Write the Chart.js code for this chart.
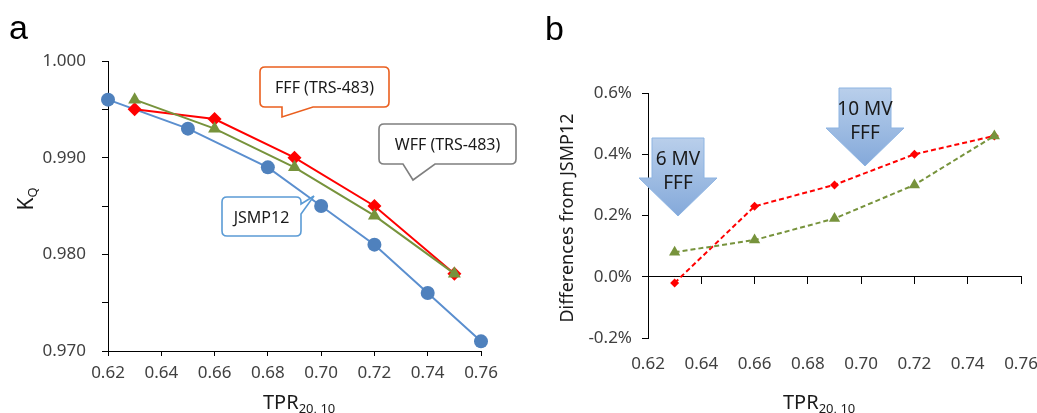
<!DOCTYPE html>
<html>
<head>
<meta charset="utf-8">
<script src="https://cdn.jsdelivr.net/npm/chart.js@4.4.1/dist/chart.umd.min.js"></script>
<style>
  body { margin: 0; background: #fff; }
  #wrap { position: relative; width: 1037px; height: 413px; overflow: hidden; }
  canvas { position: absolute; top: 0; }
  #left { left: 0; }
  #right { left: 520px; }
  #notes { position: absolute; left: 0; top: 0; pointer-events: none; }
</style>
</head>
<body>
<div id="wrap">
  <canvas id="left" width="520" height="413"></canvas>
  <canvas id="right" width="540" height="413"></canvas>
  <svg id="notes" width="1037" height="413" font-family="'Noto Sans', sans-serif">
    <defs>
      <linearGradient id="arrowFill" x1="0" y1="0" x2="0" y2="1">
        <stop offset="0" stop-color="#b9cfeb"/>
        <stop offset="1" stop-color="#84a9da"/>
      </linearGradient>
    </defs>

    <!-- panel letters -->
    <text x="9" y="39" font-family="'Liberation Sans', Arial, sans-serif" font-size="34" fill="#000">a</text>
    <text x="545" y="40" font-family="'Liberation Sans', Arial, sans-serif" font-size="34" fill="#000">b</text>

    <!-- axis titles -->
    <text transform="translate(33,199) rotate(-90)" text-anchor="middle" font-size="21" fill="#1a1a1a">K<tspan font-size="13" dy="4">Q</tspan></text>
    <text x="263" y="409" font-size="20" fill="#1a1a1a">TPR<tspan font-size="13" dy="4">20, 10</tspan></text>
    <text transform="translate(573,218) rotate(-90)" text-anchor="middle" font-size="18" fill="#1a1a1a">Differences from JSMP12</text>
    <text x="783" y="409" font-size="20" fill="#1a1a1a">TPR<tspan font-size="13" dy="4">20, 10</tspan></text>

    <!-- callouts, panel a -->
    <path d="M265,67 H384 Q389,67 389,72 V102 Q389,107 384,107 H313 L282,117 V107 H265 Q260,107 260,102 V72 Q260,67 265,67 Z"
          fill="#fff" stroke="#ea5f1e" stroke-width="1.6"/>
    <text x="324.5" y="93" text-anchor="middle" font-size="16" fill="#1a1a1a">FFF (TRS-483)</text>

    <path d="M384,124 H511 Q516,124 516,129 V159 Q516,164 511,164 H435 L413,180 L403,164 H384 Q379,164 379,159 V129 Q379,124 384,124 Z"
          fill="#fff" stroke="#7f7f7f" stroke-width="1.6"/>
    <text x="447.5" y="150" text-anchor="middle" font-size="16" fill="#1a1a1a">WFF (TRS-483)</text>

    <path d="M227,197 H296 Q301,197 301,202 V204 L314,196 L301,214 V231 Q301,236 296,236 H227 Q222,236 222,231 V202 Q222,197 227,197 Z"
          fill="#fff" stroke="#5b9bd5" stroke-width="1.6"/>
    <text x="261.5" y="223" text-anchor="middle" font-size="16" fill="#1a1a1a">JSMP12</text>

    <!-- arrows, panel b -->
    <path d="M652,138 H704 V178 H717 L678,216 L639,178 H652 Z" fill="url(#arrowFill)" stroke="#8db4e2" stroke-width="1"/>
    <text x="678" y="165" text-anchor="middle" font-size="19" fill="#1a1a1a">6 MV</text>
    <text x="678" y="189" text-anchor="middle" font-size="19" fill="#1a1a1a">FFF</text>

    <path d="M839,88 H891 V128 H904 L865,166 L826,128 H839 Z" fill="url(#arrowFill)" stroke="#8db4e2" stroke-width="1"/>
    <text x="865" y="115" text-anchor="middle" font-size="19" fill="#1a1a1a">10 MV</text>
    <text x="865" y="139" text-anchor="middle" font-size="19" fill="#1a1a1a">FFF</text>
  </svg>
</div>

<script>
// panel a: beam quality correction factor kQ vs TPR20,10
const tprJsmp = [0.62, 0.65, 0.68, 0.70, 0.72, 0.74, 0.76];
const kqJsmp  = [0.996, 0.993, 0.989, 0.985, 0.981, 0.976, 0.971];
const tprTrs  = [0.63, 0.66, 0.69, 0.72, 0.75];
const kqFff   = [0.995, 0.994, 0.990, 0.985, 0.978];
const kqWff   = [0.996, 0.993, 0.989, 0.984, 0.978];

// panel b: differences from JSMP12 (%)
const diffFff = [-0.02, 0.23, 0.30, 0.40, 0.46];
const diffWff = [0.08, 0.12, 0.19, 0.30, 0.46];

// tick values
const tprTicks   = [0.62, 0.64, 0.66, 0.68, 0.70, 0.72, 0.74, 0.76];
const kqTicks    = [0.970, 0.975, 0.980, 0.985, 0.990, 0.995, 1.000];
const kqLabelled = [0.970, 0.980, 0.990, 1.000];
const diffTicks  = [-0.2, 0.0, 0.2, 0.4, 0.6];

const RED = '#ff0000', GREEN = '#77933c', BLUE = '#4f81bd';

Chart.defaults.font.family = "'Noto Sans', sans-serif";
Chart.defaults.color = '#404040';

const pts = (xs, ys) => xs.map((x, i) => ({ x: x, y: ys[i] }));
const useTicks = vals => axis => { axis.ticks = vals.map(v => ({ value: v })); };
const tickFont = { size: 17 };
const common = {
    responsive: false,
    animation: false,
    devicePixelRatio: 1,
    plugins: { legend: { display: false }, tooltip: { enabled: false } },
};

new Chart(document.getElementById('left'), {
    type: 'line',
    data: {
        datasets: [
            { data: pts(tprTrs, kqWff), borderColor: GREEN, backgroundColor: GREEN, borderWidth: 2,
              pointStyle: 'triangle', pointRadius: 7.5, pointBorderWidth: 0, clip: false },
            { data: pts(tprTrs, kqFff), borderColor: RED, backgroundColor: RED, borderWidth: 2,
              pointStyle: 'rectRot', pointRadius: 7, pointBorderWidth: 0, clip: false },
            { data: pts(tprJsmp, kqJsmp), borderColor: '#5b8fcf', backgroundColor: BLUE, borderWidth: 2,
              pointStyle: 'circle', pointRadius: 7, pointBorderWidth: 0, clip: false },
        ]
    },
    options: Object.assign({}, common, {
        layout: { padding: { left: 8, right: 39, top: 61, bottom: 22 } },
        scales: {
            x: {
                type: 'linear', min: 0.62, max: 0.76,
                afterBuildTicks: useTicks(tprTicks),
                afterFit: a => { a.height = 40; },
                grid: { drawOnChartArea: false, tickLength: 5, color: '#000' },
                border: { color: '#000' },
                ticks: { padding: 7, font: tickFont, maxRotation: 0, autoSkip: false, callback: v => v.toFixed(2) }
            },
            y: {
                min: 0.97, max: 1.0,
                afterBuildTicks: useTicks(kqTicks),
                afterFit: a => { a.width = 100; },
                grid: { drawOnChartArea: false, tickLength: 6, color: '#000' },
                border: { color: '#000' },
                ticks: { padding: 16, font: tickFont, autoSkip: false,
                         callback: v => kqLabelled.some(l => Math.abs(l - v) < 1e-9) ? v.toFixed(3) : '' }
            }
        }
    })
});

new Chart(document.getElementById('right'), {
    type: 'line',
    data: {
        datasets: [
            { data: pts(tprTrs, diffWff), borderColor: GREEN, backgroundColor: GREEN, borderWidth: 2,
              borderDash: [5, 3], pointStyle: 'triangle', pointRadius: 6.5, pointBorderWidth: 0, clip: false },
            { data: pts(tprTrs, diffFff), borderColor: RED, backgroundColor: RED, borderWidth: 2,
              borderDash: [5, 3], pointStyle: 'rectRot', pointRadius: 4.5, pointBorderWidth: 0, clip: false },
        ]
    },
    options: Object.assign({}, common, {
        layout: { padding: { left: 8, right: 39, top: 93, bottom: 35 } },
        scales: {
            x: {
                type: 'linear', min: 0.62, max: 0.76,
                afterBuildTicks: useTicks(tprTicks),
                afterFit: a => { a.height = 40; },
                grid: { display: false },
                border: { display: false },
                ticks: { padding: 8, font: tickFont, maxRotation: 0, autoSkip: false, callback: v => v.toFixed(2) }
            },
            // axis line drawn through 0%
            x2: {
                type: 'linear', axis: 'x', position: { y: 0 }, min: 0.62, max: 0.76,
                afterBuildTicks: useTicks(tprTicks),
                afterFit: a => { a.height = 0; },
                grid: { drawOnChartArea: false, tickLength: 7, color: '#000' },
                border: { color: '#000' },
                ticks: { display: false }
            },
            y: {
                min: -0.2, max: 0.6,
                afterBuildTicks: useTicks(diffTicks),
                afterFit: a => { a.width = 120; },
                grid: { drawOnChartArea: false, tickLength: 6, color: '#000' },
                border: { color: '#000' },
                ticks: { padding: 10, font: tickFont, autoSkip: false, callback: v => v.toFixed(1) + '%' }
            }
        }
    })
});
</script>
</body>
</html>
